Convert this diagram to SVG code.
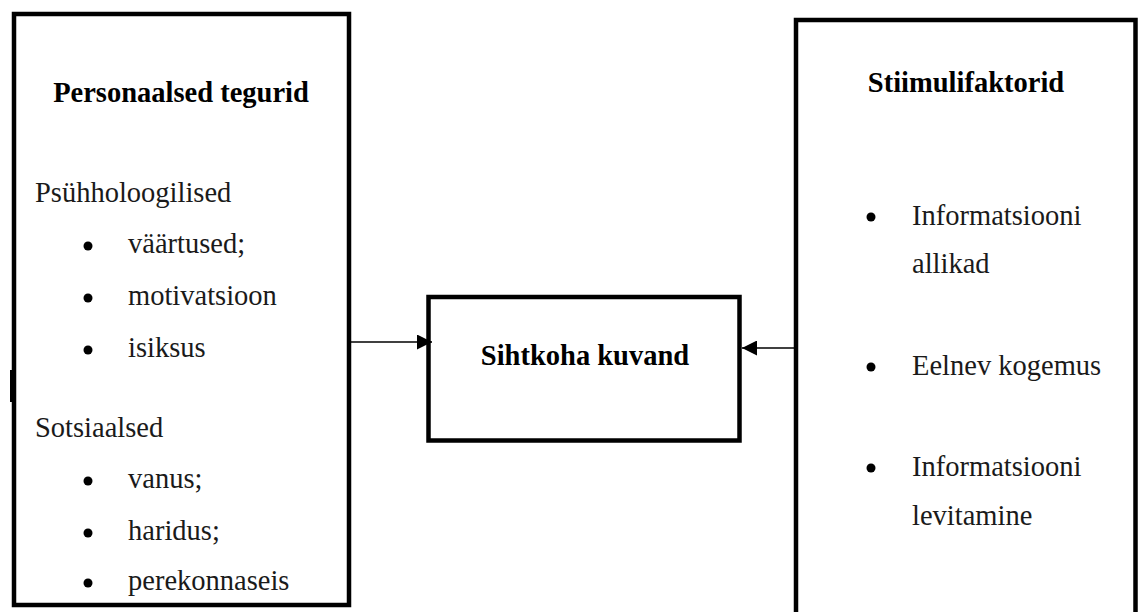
<svg xmlns="http://www.w3.org/2000/svg" width="1140" height="612" viewBox="0 0 1140 612">
<defs>
<style>
.box{fill:#fff;stroke:#000;stroke-width:4.5}
.t{font-family:"Liberation Serif","Times New Roman",serif;font-size:28.5px;fill:#1a1a1a}
.b{font-weight:bold;fill:#000}
.conn{stroke:#000;stroke-width:1.6;fill:none}
</style>
<marker id="ah" viewBox="0 0 15 15" refX="15" refY="7.5" markerWidth="15" markerHeight="15" markerUnits="userSpaceOnUse" orient="auto">
<path d="M0,0 L15,7.5 L0,15 Z" fill="#000"/>
</marker>
</defs>
<rect width="1140" height="612" fill="#fff"/>
<g id="personal">
<rect class="box" x="14" y="14" width="335" height="591"/>
<rect x="10" y="370" width="6" height="32" fill="#000"/>
<text class="t b" x="181" y="102" text-anchor="middle">Personaalsed tegurid</text>
<text class="t" x="35" y="202">Psühholoogilised</text>
<circle cx="88" cy="246" r="4.5"/><text class="t" x="128" y="253">väärtused;</text>
<circle cx="88" cy="298" r="4.5"/><text class="t" x="128" y="305">motivatsioon</text>
<circle cx="88" cy="350" r="4.5"/><text class="t" x="128" y="357">isiksus</text>
<text class="t" x="35" y="437">Sotsiaalsed</text>
<circle cx="88" cy="481" r="4.5"/><text class="t" x="128" y="488">vanus;</text>
<circle cx="88" cy="533" r="4.5"/><text class="t" x="128" y="540">haridus;</text>
<circle cx="88" cy="583" r="4.5"/><text class="t" x="128" y="590">perekonnaseis</text>
</g>
<g id="image">
<rect class="box" x="428.5" y="297" width="311" height="143.5"/>
<text class="t b" x="585" y="365" text-anchor="middle">Sihtkoha kuvand</text>
</g>
<g id="stimulus">
<rect class="box" x="796" y="20" width="339.5" height="630"/>
<text class="t b" x="966" y="92" text-anchor="middle">Stiimulifaktorid</text>
<circle cx="871" cy="217" r="4.5"/><text class="t" x="912" y="225">Informatsiooni</text>
<text class="t" x="912" y="273">allikad</text>
<circle cx="871" cy="367" r="4.5"/><text class="t" x="912" y="375">Eelnev kogemus</text>
<circle cx="871" cy="468" r="4.5"/><text class="t" x="912" y="476">Informatsiooni</text>
<text class="t" x="912" y="525">levitamine</text>
</g>
<g id="connectors">
<line class="conn" x1="351" y1="342" x2="432" y2="342" marker-end="url(#ah)"/>
<line class="conn" x1="794" y1="348" x2="742" y2="348" marker-end="url(#ah)"/>
</g>
</svg>
